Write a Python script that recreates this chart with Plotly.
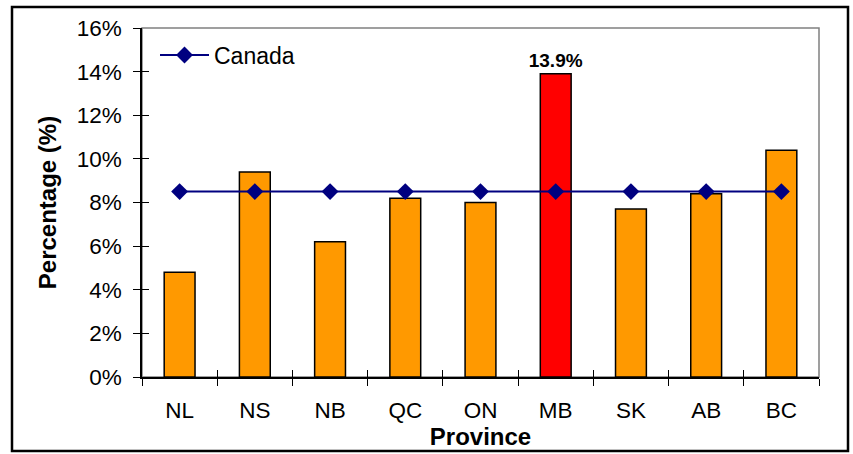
import plotly.graph_objects as go

provinces = ["NL", "NS", "NB", "QC", "ON", "MB", "SK", "AB", "BC"]
province_pct = [4.8, 9.4, 6.2, 8.2, 8.0, 13.9, 7.7, 8.4, 10.4]
canada_pct = [8.5] * len(provinces)
highlight = "MB"
y_ticks = [0, 2, 4, 6, 8, 10, 12, 14, 16]
y_tick_labels = [f"{v}%" for v in y_ticks]

FONT = "Liberation Sans, Arial, sans-serif"
W, H = 853, 454
ML, MR, MT, MB_ = 142, 34, 28, 77
PW, PH = W - ML - MR, H - MT - MB_

bar_colors = ["#FF0000" if p == highlight else "#FF9900" for p in provinces]
bar_text = [f"<b>{v}%</b>" if p == highlight else "" for p, v in zip(provinces, province_pct)]

fig = go.Figure()
fig.add_trace(go.Bar(
    x=provinces, y=province_pct, width=0.41,
    marker=dict(color=bar_colors, line=dict(color="black", width=1.5)),
    text=bar_text, textposition="outside", cliponaxis=False, constraintext="none",
    textfont=dict(family=FONT, size=19, color="black"),
    showlegend=False, hoverinfo="skip",
))
fig.add_trace(go.Scatter(
    x=provinces, y=canada_pct, mode="lines+markers", name="Canada",
    line=dict(color="#000080", width=2),
    marker=dict(symbol="diamond", size=13, color="#000080"),
))
# invisible trace for the overlay axes (inside ticks)
fig.add_trace(go.Scatter(x=provinces, y=canada_pct, xaxis="x2", yaxis="y2",
                         mode="markers", marker=dict(opacity=0), showlegend=False,
                         hoverinfo="skip"))

def px2paper_x(px):
    return (px - ML) / PW

def px2paper_y(py):
    return (H - MB_ - py) / PH

fig.update_layout(
    width=W, height=H,
    margin=dict(l=ML, r=MR, t=MT, b=MB_),
    paper_bgcolor="white", plot_bgcolor="white",
    font=dict(family=FONT, size=22, color="black"),
    bargap=0.59,
    xaxis=dict(
        type="category", categoryarray=provinces, range=[-0.5, 8.5],
        tickson="boundaries", ticks="outside", ticklen=7, tickwidth=1, tickcolor="black",
        showline=True, linecolor="black", linewidth=1.5, showgrid=False,
        tickfont=dict(family=FONT, size=22.5, color="black"), ticklabelstandoff=12,
        title=dict(text="<b>Province</b>", font=dict(family=FONT, size=24, color="black"), standoff=0),
        zeroline=False,
    ),
    yaxis=dict(
        range=[0, 16], tickvals=y_ticks, ticktext=y_tick_labels,
        ticks="outside", ticklen=7, tickwidth=1, tickcolor="black",
        showline=True, linecolor="black", linewidth=1.5, showgrid=False, zeroline=False,
        tickfont=dict(family=FONT, size=22.5, color="black"), ticklabelstandoff=7,
        title=dict(text="<b>Percentage (%)</b>", font=dict(family=FONT, size=24, color="black"), standoff=13),
    ),
    xaxis2=dict(
        type="category", categoryarray=provinces, range=[-0.5, 8.5], overlaying="x",
        tickson="boundaries", ticks="inside", ticklen=7, tickwidth=1, tickcolor="black",
        showticklabels=False, showgrid=False, showline=False, zeroline=False, side="bottom",
    ),
    yaxis2=dict(
        range=[0, 16], tickvals=y_ticks, overlaying="y",
        ticks="inside", ticklen=7, tickwidth=1, tickcolor="black",
        showticklabels=False, showgrid=False, showline=False, zeroline=False, side="left",
    ),
    legend=dict(x=px2paper_x(155), y=px2paper_y(55), xanchor="left", yanchor="middle",
                bgcolor="rgba(0,0,0,0)", borderwidth=0, itemwidth=49,
                font=dict(family=FONT, size=23, color="black")),
    shapes=[
        dict(type="rect", xref="paper", yref="paper", x0=0, x1=1, y0=0, y1=1,
             line=dict(color="#808080", width=1.5), layer="below"),
        dict(type="rect", xref="paper", yref="paper",
             x0=px2paper_x(12), x1=px2paper_x(848), y0=px2paper_y(451), y1=px2paper_y(7),
             line=dict(color="black", width=2.5)),
    ],
)

fig.write_html("out.html")
